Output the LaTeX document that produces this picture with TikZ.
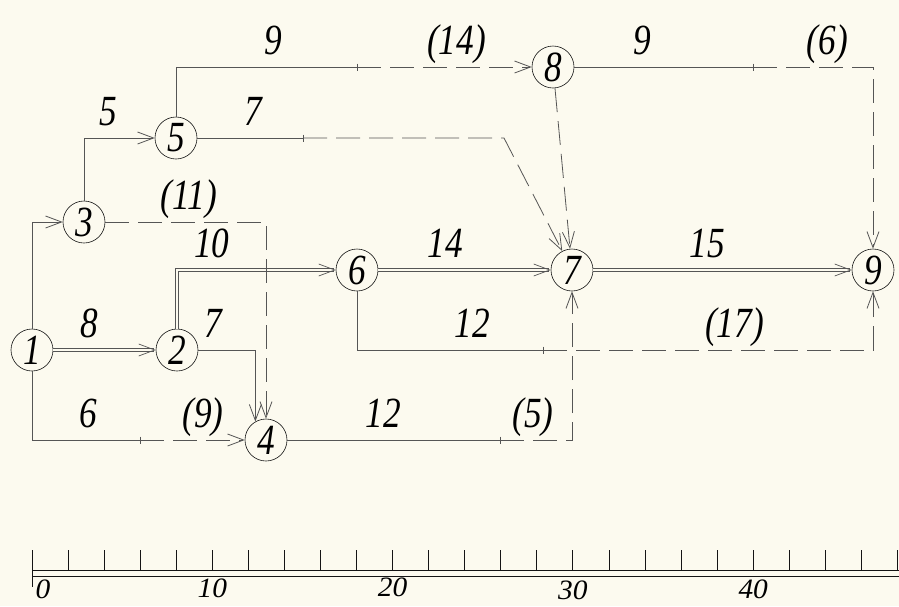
\documentclass[tikz,border=0pt]{standalone}
\usepackage{fontspec}
\setmainfont{Liberation Serif}[FakeStretch=0.82]
\newfontfamily\scalefont{Liberation Serif}[FakeStretch=1.05]
\usetikzlibrary{arrows.meta}
\definecolor{paper}{HTML}{FCFAEF}
\definecolor{ink}{HTML}{141414}
\definecolor{wire}{HTML}{555555}

\begin{document}
\begin{tikzpicture}[x=1pt,y=-1pt,
   event/.style={circle,draw=ink,line width=0.6pt,minimum size=42pt,inner sep=0pt,
     font=\fontsize{43}{45}\selectfont\itshape},
   work/.style={draw=wire,line width=0.8pt},
   flow/.style={work,-{Straight Barb[length=16pt,width=12pt]}},
   slack/.style={flow,dash pattern=on 24pt off 9pt},
   crit/.style={flow,double=paper,double distance=2pt,line width=0.7pt},
   lbl/.style={font=\fontsize{43}{45}\selectfont\itshape,inner sep=0pt,text depth=0pt,above=12pt},
   tickmark/.style={work,line width=0.6pt},
   ruler/.style={draw=ink,line width=0.7pt},
   rlbl/.style={font=\scalefont\fontsize{28}{30}\selectfont\itshape,inner sep=0pt}]
 \useasboundingbox[fill=paper] (0,0) rectangle (899,606);
 \node[event] (n1) at (32,350) {1};
 \node[event] (n2) at (177,350) {2};
 \node[event] (n3) at (84,222) {3};
 \node[event] (n4) at (266,440) {4};
 \node[event] (n5) at (176,138) {5};
 \node[event] (n6) at (357,270) {6};
 \node[event] (n7) at (572,270) {7};
 \node[event] (n8) at (553,67) {8};
 \node[event] (n9) at (873,270) {9};
 \coordinate (t14) at (140,440);
 \coordinate (t47) at (500,440);
 \coordinate (t57) at (303,138);
 \coordinate (c57) at (504,138);
 \coordinate (t58) at (357,67);
 \coordinate (t69) at (543,350);
 \coordinate (t89) at (753,67);
 \draw[crit] (n1) -- node[lbl,pos=0.35]{8} (n2);
 \draw[flow] (n1.north) |- (n3);
 \draw[work] (n1.south) |- node[lbl,pos=0.76]{6} (t14);
 \draw[slack] (t14) -- node[lbl,pos=0.6]{(9)} (n4);
 \draw[crit] (n2.north) |- node[lbl,pos=0.61]{10} (n6);
 \draw[flow] (n2) -| node[lbl,pos=0.13]{7} (n4.120);
 \draw[slack] (n3) -| node[lbl,pos=0.26]{(11)} (n4);
 \draw[flow] (n3.north) |- node[lbl,pos=0.67]{5} (n5);
 \draw[work] (n5) -- node[lbl,pos=0.53]{7} (t57);
 \draw[slack] (t57) -- (c57) -- (n7);
 \draw[work] (n5.north) |- node[lbl,pos=0.77]{9} (t58);
 \draw[slack] (t58) -- node[lbl,pos=0.57]{(14)} (n8);
 \draw[work] (n8) -- node[lbl,pos=0.38]{9} (t89);
 \draw[slack] (t89) -| node[lbl,pos=0.31]{(6)} (n9);
 \draw[slack] (n8) -- (n7);
 \draw[crit] (n6) -- node[lbl,pos=0.39]{14} (n7);
 \draw[crit] (n7) -- node[lbl,pos=0.44]{15} (n9);
 \draw[work] (n6.south) |- node[lbl,pos=0.81]{12} (t69);
 \draw[slack] (t69) -| node[lbl,pos=0.29]{(17)} (n9);
 \draw[work] (n4) -- node[lbl,pos=0.45]{12} (t47);
 \draw[slack] (t47) -| node[lbl,pos=0.23]{(5)} (n7);
 \foreach \t in {t14,t47,t57,t58,t69,t89}
   \draw[tickmark] ([yshift=3.5pt]\t) -- ([yshift=-3.5pt]\t);
 \foreach \k in {0,...,24}
   \draw[ruler,line width=0.6pt] (32+36.05*\k,550) -- (32+36.05*\k,570);
 \draw[ruler] (32,570) -- (899,570);
 \draw[ruler] (32,576) -- (899,576);
 \draw[ruler] (32,550) -- (32,587);
 \node[rlbl] (s0) at (43,589) {0};
 \foreach \v/\y in {10/588,20/587,30/590,40/589}
   \node[rlbl] (s\v) at (32+18.03*\v,\y) {\v};
\end{tikzpicture}
\end{document}
